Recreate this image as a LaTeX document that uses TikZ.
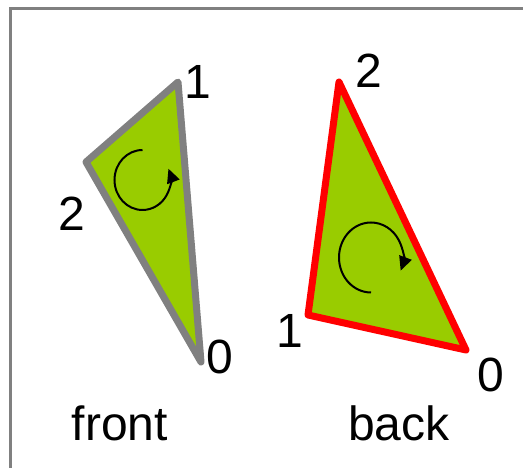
\documentclass[tikz,border=0pt]{standalone}
\usepackage{fontspec}
\setmainfont{Liberation Sans}
\usetikzlibrary{arrows.meta}

\definecolor{leaf}{HTML}{99CC00}
\definecolor{edgegray}{HTML}{808080}

\begin{document}
\begin{tikzpicture}[x=1pt, y=1pt,
    face/.style={fill=leaf, line width=7pt, line join=round},
    frontface/.style={face, draw=edgegray},
    backface/.style={face, draw=red},
    numlabel/.style={font=\fontsize{48}{57}\selectfont, inner sep=0pt},
    caption/.style={numlabel},
    turn/.style={line width=2pt, -{Triangle[length=14pt, width=13pt]}}
  ]
    \useasboundingbox (0,0) rectangle (523,468);
    \draw[edgegray, line width=3pt] (10,-10) rectangle (533,459.5);

    % front face
    \coordinate (f0) at (201,106);
    \coordinate (f1) at (178,386);
    \coordinate (f2) at (86,306);
    \draw[frontface] (f0) -- (f1) -- (f2) -- cycle;
    \node[numlabel] (f0lab) at (220,111) {0};
    \node[numlabel] (f1lab) at (198,386) {1};
    \node[numlabel] (f2lab) at (72,254) {2};
    \draw[turn] (142.5,288) ++(90:28 and 30) arc[start angle=90, end angle=382, x radius=28, y radius=30];

    % back face
    \coordinate (b0) at (466,118);
    \coordinate (b1) at (308,153);
    \coordinate (b2) at (339,386);
    \draw[backface] (b0) -- (b1) -- (b2) -- cycle;
    \node[numlabel] (b0lab) at (491,93) {0};
    \node[numlabel] (b1lab) at (290,137) {1};
    \node[numlabel] (b2lab) at (369,397) {2};
    \draw[turn] (371,210.5) ++(270:32 and 35) arc[start angle=270, end angle=-22, x radius=32, y radius=35];

    \node[caption] (front) at (120,44.5) {front};
    \node[caption] (back) at (399,44.5) {back};
\end{tikzpicture}
\end{document}
